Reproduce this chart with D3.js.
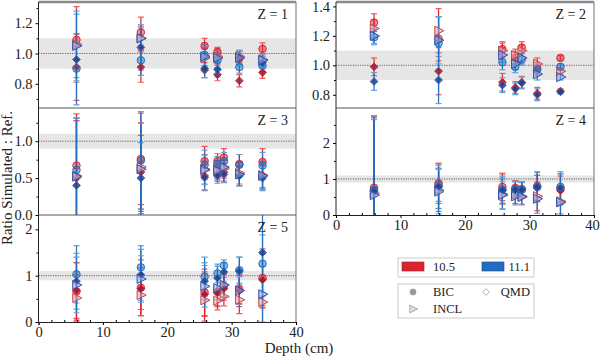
<!DOCTYPE html>
<html>
<head>
<meta charset="utf-8">
<script src="https://cdn.jsdelivr.net/npm/d3@7"></script>
<style>
  body { margin: 0; background: #fff; }
  svg text { font-family: "Liberation Serif", "Times New Roman", Times, serif !important; fill: #222; }
</style>
</head>
<body>
<svg id="chart" width="600" height="361"></svg>
<script>
// depth of each sample (cm)
const depths = [5.9, 15.9, 25.8, 27.8, 28.8, 31.2, 34.8];
const versions = ["10.5", "11.1"];
const models = ["BIC", "QMD", "INCL"];
const panelNames = ["Z = 1", "Z = 2", "Z = 3", "Z = 4", "Z = 5"];

// [ratio, error] per depth, null = no point
const z1_105_BIC  = [[1.09,.04],[1.14,.10],[1.05,.05],[1.01,.03],null,[0.97,.04],[1.03,.04]];
const z1_105_QMD  = [[0.91,.22],[0.91,.10],[0.89,.05],[0.86,.04],null,[0.82,.04],[0.875,.04]];
const z1_105_INCL = [[1.06,.25],[1.10,.08],[0.97,.06],[0.98,.05],null,[0.98,.04],[0.96,.04]];
const z1_111_BIC  = [[0.90,.06],[0.955,.10],[0.99,.07],[0.955,.05],null,[0.91,.04],[0.92,.04]];
const z1_111_QMD  = [[0.96,.30],[1.04,.15],[0.90,.06],[0.895,.05],null,[0.97,.05],[0.94,.04]];
const z1_111_INCL = [[1.05,.23],[1.10,.07],[0.98,.06],[0.97,.05],null,[0.97,.04],[0.955,.04]];

const z2_105_BIC  = [[1.29,.06],[1.18,.15],[1.11,.05],[1.05,.04],[1.12,.04],[0.98,.04],[1.05,.015]];
const z2_105_QMD  = [[0.99,.06],[0.96,.16],[0.885,.06],[0.85,.04],[0.885,.04],[0.81,.04],[0.825,.015]];
const z2_105_INCL = [[1.25,.06],[1.235,.15],[1.10,.05],[1.07,.04],[1.10,.04],[1.01,.04],[0.96,.02]];
const z2_111_BIC  = [[1.19,.05],[1.15,.18],[1.02,.05],[0.99,.04],[1.04,.04],[0.97,.04],[0.99,.02]];
const z2_111_QMD  = [[0.89,.06],[0.90,.16],[0.865,.05],[0.84,.04],[0.88,.04],[0.80,.04],[0.82,.015]];
const z2_111_INCL = [[1.20,.05],[1.17,.16],[1.07,.05],[1.01,.04],[1.05,.04],[0.94,.04],[0.92,.02]];

const z3_105_BIC  = [[0.67,.70],[0.76,.62],[0.73,.20],[0.73,.10],[0.78,.12],[0.69,.13],[0.72,.18]];
const z3_105_QMD  = [[0.50,.78],[0.58,.50],[0.53,.20],[0.56,.10],[0.58,.12],[0.53,.13],[0.54,.17]];
const z3_105_INCL = [[0.53,.75],[0.65,.60],[0.62,.20],[0.62,.12],[0.63,.13],[0.57,.15],[0.54,.19]];
const z3_111_BIC  = [[0.61,.70],[0.74,.66],[0.68,.20],[0.69,.10],[0.73,.12],[0.68,.14],[0.67,.18]];
const z3_111_QMD  = [[0.40,.92],[0.50,.48],[0.51,.17],[0.53,.10],[0.55,.11],[0.53,.13],[0.50,.17]];
const z3_111_INCL = [[0.52,.80],[0.62,.62],[0.61,.20],[0.60,.12],[0.65,.12],[0.55,.16],[0.53,.18]];

const z4_105_BIC  = [[0.76,2.0],[0.88,.56],[0.78,.38],[0.75,.20],[0.72,.20],[0.80,.30],[0.72,.42]];
const z4_105_QMD  = [[0.72,2.0],[0.80,.62],[0.72,.42],[0.72,.22],[0.70,.22],[0.75,.35],[0.68,.40]];
const z4_105_INCL = [[0.60,2.1],[0.70,.60],[0.58,.42],[0.57,.25],[0.52,.22],[0.52,.40],[0.38,.35]];
const z4_111_BIC  = [[0.70,2.05],[0.83,.45],[0.70,.38],[0.72,.22],[0.70,.20],[0.78,.40],[0.78,.42]];
const z4_111_QMD  = [[0.65,2.0],[0.78,.60],[0.68,.35],[0.70,.22],[0.70,.22],[0.78,.42],[0.75,.40]];
const z4_111_INCL = [[0.55,2.1],[0.65,.62],[0.55,.38],[0.52,.24],[0.50,.22],[0.45,.40],[0.35,.38]];

const z5_105_BIC  = [[0.66,.62],[0.74,.60],[0.64,.50],[0.65,.30],[0.78,.25],[0.70,.30],[0.95,.63]];
const z5_105_QMD  = [[0.68,.60],[0.72,.45],[0.60,.48],[0.63,.30],[0.72,.25],[0.68,.35],[0.91,.55]];
const z5_105_INCL = [[0.52,.50],[0.58,.45],[0.47,.45],[0.46,.20],[0.55,.20],[0.48,.30],[0.43,.13]];
const z5_111_BIC  = [[1.03,.62],[1.18,.47],[0.98,.42],[1.05,.20],[1.22,.12],[1.12,.28],[1.26,.62]];
const z5_111_QMD  = [[0.88,.60],[1.02,.55],[0.88,.40],[0.95,.25],[1.08,.20],[1.10,.30],[1.50,1.6]];
const z5_111_INCL = [[0.80,.60],[0.93,.50],[0.77,.45],[0.73,.25],[0.80,.25],[0.68,.30],[0.60,.60]];

const panelSeries = [
  [z1_105_BIC, z1_105_QMD, z1_105_INCL, z1_111_BIC, z1_111_QMD, z1_111_INCL],
  [z2_105_BIC, z2_105_QMD, z2_105_INCL, z2_111_BIC, z2_111_QMD, z2_111_INCL],
  [z3_105_BIC, z3_105_QMD, z3_105_INCL, z3_111_BIC, z3_111_QMD, z3_111_INCL],
  [z4_105_BIC, z4_105_QMD, z4_105_INCL, z4_111_BIC, z4_111_QMD, z4_111_INCL],
  [z5_105_BIC, z5_105_QMD, z5_105_INCL, z5_111_BIC, z5_111_QMD, z5_111_INCL]
];

// layout of the panels
const panels = [
  {col: 0, top: 2,   bottom: 108, dom: [0.64, 1.34], major: [0.8, 1.0, 1.2], minor: 0.1, fmt: ".1f"},
  {col: 1, top: 2,   bottom: 108, dom: [0.71, 1.43], major: [0.8, 1.0, 1.2, 1.4], minor: 0.1, fmt: ".1f"},
  {col: 0, top: 108, bottom: 215, dom: [0, 1.45], major: [0.0, 0.5, 1.0], minor: 0.25, fmt: ".1f"},
  {col: 1, top: 108, bottom: 215, dom: [0, 2.97], major: [0, 1, 2], minor: 0.5, fmt: "d", xaxis: true},
  {col: 0, top: 215, bottom: 322, dom: [0, 2.31], major: [0, 1, 2], minor: 0.5, fmt: "d", xaxis: true}
];

const colors = {"10.5": "#e0232b", "11.1": "#1f6fc0"};
const capColors = {"10.5": "#ef5a5f", "11.1": "#5aa4e0"};
const darkColors = {"10.5": "#8a1f3a", "11.1": "#2a3b8a"};
const serif = "'Liberation Serif', 'Times New Roman', serif";

const svg = d3.select("#chart");
const xScales = [
  d3.scaleLinear().domain([0, 40]).range([38.5, 296]),
  d3.scaleLinear().domain([0, 40]).range([336, 594])
];

const symTri = {
  draw(ctx, size) {
    const r = Math.sqrt(size) * 0.62;
    ctx.moveTo(r, 0);
    ctx.lineTo(-r * 0.7, -r * 0.85);
    ctx.lineTo(-r * 0.7, r * 0.85);
    ctx.closePath();
  }
};
const symbols = {BIC: d3.symbolCircle, QMD: d3.symbolDiamond2, INCL: symTri};
const symSize = {BIC: 44, QMD: 38, INCL: 75};

panels.forEach((p, i) => {
  const x = xScales[p.col];
  const y = d3.scaleLinear().domain(p.dom).range([p.bottom, p.top]);
  const [x0, x1] = x.range();
  const g = svg.append("g");

  g.append("clipPath").attr("id", "clip" + i)
    .append("rect").attr("x", x0).attr("y", p.top).attr("width", x1 - x0).attr("height", p.bottom - p.top);

  // reference band and line
  g.append("rect").attr("x", x0).attr("width", x1 - x0)
    .attr("y", y(1.1)).attr("height", y(0.9) - y(1.1)).attr("fill", "#e6e6e6");
  g.append("line").attr("x1", x0).attr("x2", x1).attr("y1", y(1)).attr("y2", y(1))
    .attr("stroke", "#444").attr("stroke-width", 0.8).attr("stroke-dasharray", "1.2,1.2");

  const plot = g.append("g").attr("clip-path", "url(#clip" + i + ")");

  const pts = [];
  panelSeries[i].forEach((arr, s) => {
    const ver = versions[Math.floor(s / 3)];
    const mod = models[s % 3];
    arr.forEach((d, k) => {
      if (d) pts.push({ver, mod, depth: depths[k], v: d[0], e: d[1]});
    });
  });

  // error bars
  pts.forEach(d => {
    const cx = x(d.depth);
    plot.append("line").attr("x1", cx).attr("x2", cx)
      .attr("y1", y(d.v + d.e)).attr("y2", y(d.v - d.e))
      .attr("stroke", colors[d.ver]).attr("stroke-width", 1.2);
    [d.v + d.e, d.v - d.e].forEach(c => {
      plot.append("line").attr("x1", cx - 3).attr("x2", cx + 3)
        .attr("y1", y(c)).attr("y2", y(c))
        .attr("stroke", capColors[d.ver]).attr("stroke-width", 1.2);
    });
  });

  // markers
  pts.forEach(d => {
    const m = plot.append("path")
      .attr("d", d3.symbol(symbols[d.mod], symSize[d.mod])())
      .attr("transform", `translate(${x(d.depth)},${y(d.v)})`)
      .attr("stroke", colors[d.ver])
      .attr("stroke-width", 1);
    if (d.mod === "BIC") m.attr("fill", colors[d.ver]).attr("fill-opacity", 0.5);
    if (d.mod === "QMD") m.attr("fill", darkColors[d.ver]).attr("fill-opacity", 0.85);
    if (d.mod === "INCL") m.attr("fill", d.ver === "10.5" ? "#e99aa0" : "#8fa9dc").attr("fill-opacity", 0.55)
      .attr("stroke", d.ver === "10.5" ? "#c8464e" : "#2e50b0");
  });

  // frame
  g.append("line").attr("x1", x1).attr("x2", x1).attr("y1", p.top).attr("y2", p.bottom)
    .attr("stroke", "#888").attr("stroke-width", 1.2);
  g.append("line").attr("x1", x0).attr("x2", x1).attr("y1", p.top).attr("y2", p.top)
    .attr("stroke", p.top < 10 ? "#8a8a8a" : "#555").attr("stroke-width", p.top < 10 ? 2.4 : 1);

  // y axis
  const minorTicks = d3.range(Math.ceil(p.dom[0] / p.minor) * p.minor, p.dom[1], p.minor)
    .filter(t => !p.major.some(mj => Math.abs(mj - t) < 1e-6));
  g.append("g").attr("transform", `translate(${x0},0)`)
    .call(d3.axisLeft(y).tickValues(minorTicks).tickSize(2).tickFormat(""))
    .call(a => a.select(".domain").remove());
  const ya = g.append("g").attr("transform", `translate(${x0},0)`)
    .call(d3.axisLeft(y).tickValues(p.major).tickSize(3).tickPadding(3).tickFormat(d3.format(p.fmt)));
  ya.attr("font-family", serif);
  ya.select(".domain").attr("d", `M0,${p.top}V${p.bottom}`).attr("stroke", "#222");
  ya.selectAll("text").attr("font-size", 14.5).attr("font-family", serif);

  // panel label
  g.append("text").attr("x", x1 - 8).attr("y", p.top + 17).attr("text-anchor", "end")
    .attr("font-family", serif).attr("font-size", 14).text(panelNames[i]);

  if (p.xaxis) {
    g.append("g").attr("transform", `translate(0,${p.bottom})`)
      .call(d3.axisBottom(x).tickValues(d3.range(2, 40, 2).filter(t => t % 10)).tickSize(-2).tickFormat(""))
      .call(a => a.select(".domain").remove());
    const xa = g.append("g").attr("transform", `translate(0,${p.bottom})`)
      .call(d3.axisBottom(x).tickValues([0, 10, 20, 30, 40]).tickSize(3).tickPadding(2).tickFormat(d3.format("d")));
    xa.attr("font-family", serif);
    xa.select(".domain").attr("stroke", "#222");
    xa.selectAll("text").attr("font-size", 14.5).attr("font-family", serif);
    // keep the last label inside the window
    if (p.col === 1) xa.selectAll("text").filter(t => t === 40).attr("dx", -2);
  }
});

// axis titles
svg.append("text").attr("transform", "translate(12,178) rotate(-90)")
  .attr("text-anchor", "middle").attr("font-family", serif).attr("font-size", 15).text("Ratio Simulated : Ref.");
svg.append("text").attr("x", 299).attr("y", 353)
  .attr("text-anchor", "middle").attr("font-family", serif).attr("font-size", 15).text("Depth (cm)");

// legend
const leg = svg.append("g");
leg.append("rect").attr("x", 398).attr("y", 258).attr("width", 136).attr("height", 19)
  .attr("fill", "#fff").attr("stroke", "#ccc");
versions.forEach((v, i) => {
  const lx = 402 + i * 80;
  leg.append("rect").attr("x", lx).attr("y", 262).attr("width", 22).attr("height", 9)
    .attr("fill", colors[v]).attr("stroke", darkColors[v]).attr("stroke-width", 0.6);
  leg.append("text").attr("x", i ? 530 : 433).attr("y", 271).attr("font-size", 12.5)
    .attr("font-family", serif).attr("text-anchor", i ? "end" : "start").text(v);
});
leg.append("rect").attr("x", 398).attr("y", 284).attr("width", 136).attr("height", 34)
  .attr("fill", "#fff").attr("stroke", "#ccc");
const legItems = [
  {m: "BIC", x: 413, y: 292, tx: 433, anchor: "start"},
  {m: "QMD", x: 486, y: 292, tx: 530, anchor: "end"},
  {m: "INCL", x: 413, y: 309, tx: 433, anchor: "start"}
];
legItems.forEach(it => {
  const sym = leg.append("path")
    .attr("d", d3.symbol(symbols[it.m], it.m === "INCL" ? 55 : 28)())
    .attr("transform", `translate(${it.x},${it.y})`)
    .attr("stroke", "#999").attr("stroke-width", 0.8);
  sym.attr("fill", it.m === "BIC" ? "#999" : (it.m === "INCL" ? "#ddd" : "#fff"));
  leg.append("text").attr("x", it.tx).attr("y", it.y + 4).attr("font-size", 12.5)
    .attr("font-family", serif).attr("text-anchor", it.anchor).text(it.m);
});
</script>
</body>
</html>
